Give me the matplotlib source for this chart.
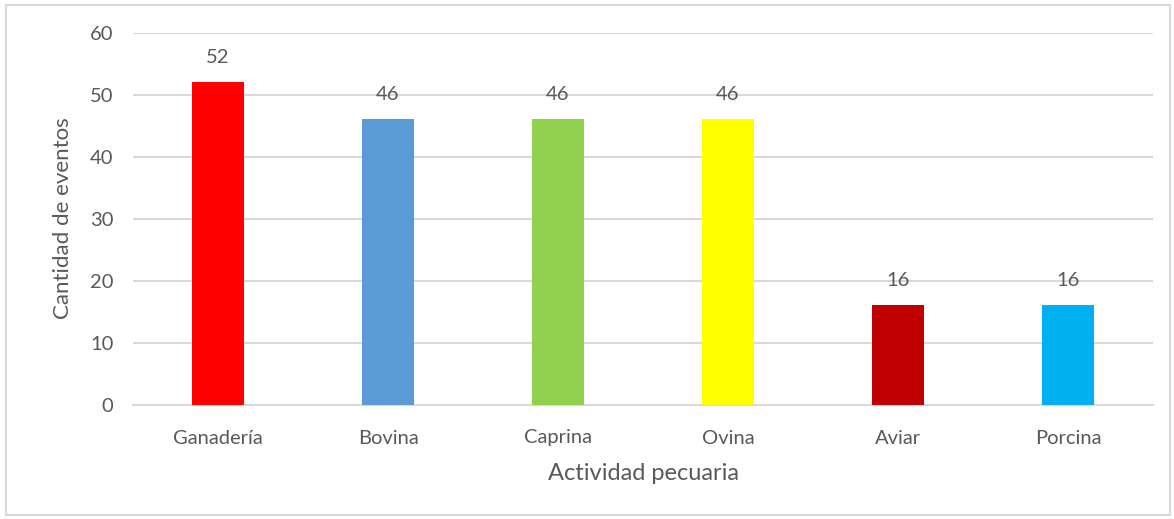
import matplotlib
matplotlib.use("Agg")
import matplotlib.pyplot as plt
from matplotlib.patches import Rectangle

categories = ["Ganadería", "Bovina", "Caprina", "Ovina", "Aviar", "Porcina"]
values = [52, 46, 46, 46, 16, 16]
colors = ["#FF0000", "#5B9BD5", "#92D050", "#FFFF00", "#C00000", "#00B0F0"]
yticks = [0, 10, 20, 30, 40, 50, 60]

plt.rcParams['font.family'] = ['Lato', 'DejaVu Sans']
txt = "#595959"

fig = plt.figure(figsize=(11.74, 5.19), dpi=100)
ax = fig.add_axes([133/1174, 1-404.5/519, 1020/1174, 372/519])

x = list(range(len(categories)))
bars = ax.bar(x, values, width=0.31, color=colors, zorder=3)
for xi, v in zip(x, values):
    ax.text(xi, v + 2.6, str(v), ha="center", va="bottom", fontsize=14.5, color=txt)

ax.set_xlim(-0.5, len(categories) - 0.5)
ax.set_ylim(0, 60)
ax.set_yticks(yticks)
ax.set_xticks(x)
ax.set_xticklabels(categories)
ax.yaxis.grid(True, color="#D9D9D9", linewidth=1.5, zorder=0)
ax.set_axisbelow(True)
for s in ["top", "right", "left"]:
    ax.spines[s].set_visible(False)
ax.spines["bottom"].set_color("#D9D9D9")
ax.spines["bottom"].set_linewidth(1.5)
ax.tick_params(axis="both", length=0, labelsize=14.5, colors=txt)
ax.tick_params(axis="x", pad=18)
ax.tick_params(axis="y", pad=14)
ax.set_xlabel("Actividad pecuaria", fontsize=17, color=txt, labelpad=12)
ax.set_ylabel("Cantidad de eventos", fontsize=16, color=txt, labelpad=12)

fig.patches.append(Rectangle((6/1174, 4/519), 1164/1174, 510/519, transform=fig.transFigure,
                             fill=False, edgecolor="#D9D9D9", linewidth=1.5))

fig.savefig("out.png", dpi=100)
